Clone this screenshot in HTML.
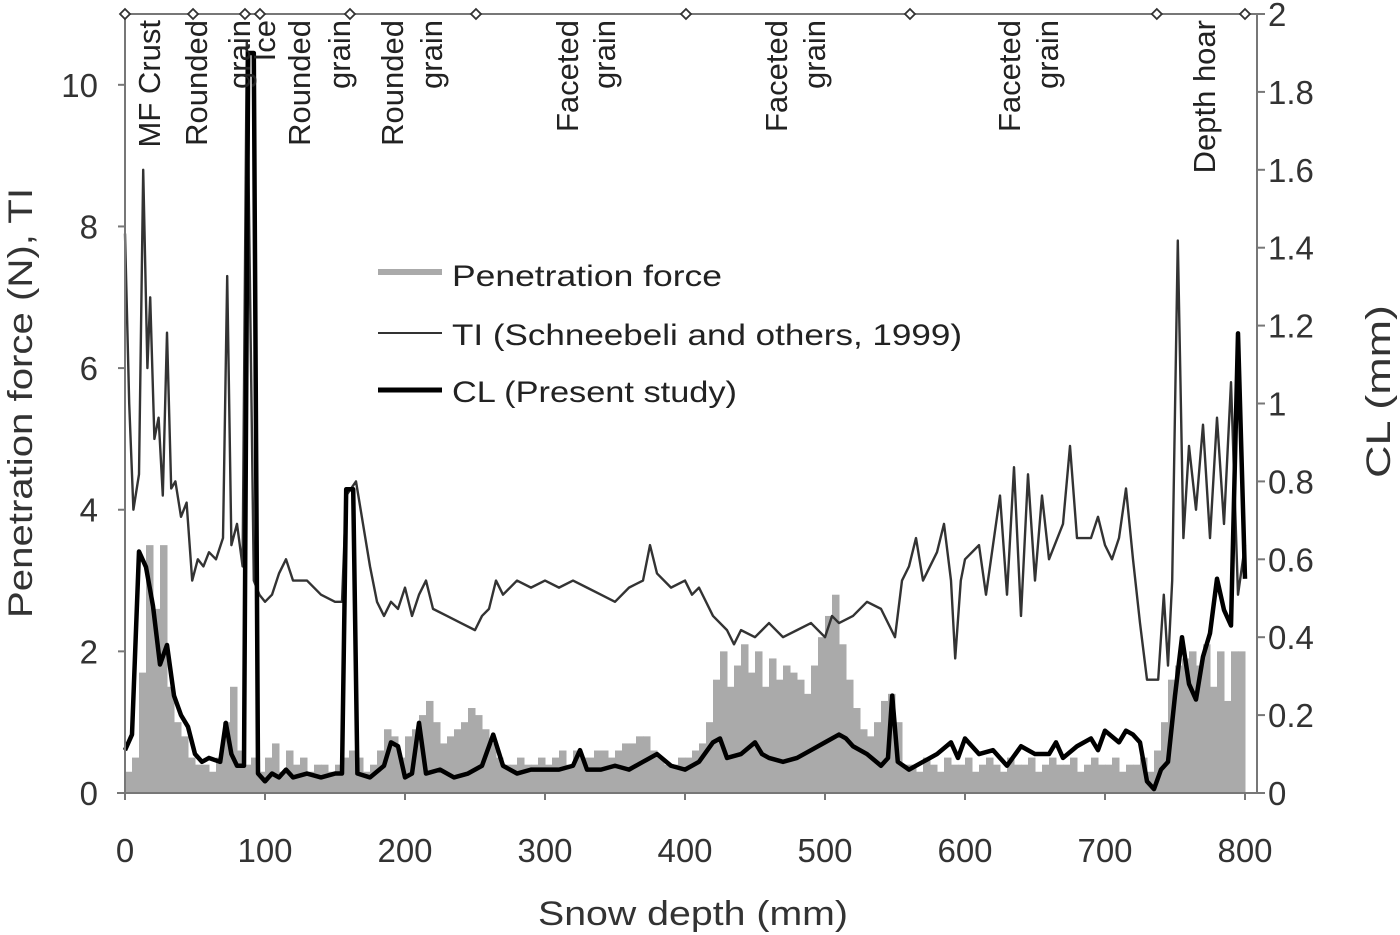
<!DOCTYPE html>
<html><head><meta charset="utf-8"><style>
html,body{margin:0;padding:0;background:#fff;}
svg{display:block;font-family:"Liberation Sans",Arial,sans-serif;}
</style></head><body>
<svg id="chart" width="1400" height="935" viewBox="0 0 1400 935" xmlns="http://www.w3.org/2000/svg">
<g id="pf"></g>
<g id="ti"></g>
<g id="cl"></g>
<g id="axes"></g>
<g id="layers"></g>
<g font-size="30" fill="#222">
  <line x1="378" y1="272" x2="442" y2="272" stroke="#aaa" stroke-width="6"/>
  <text x="452" y="286" textLength="270" lengthAdjust="spacingAndGlyphs">Penetration  force</text>
  <line x1="378" y1="333" x2="442" y2="333" stroke="#333" stroke-width="2"/>
  <text x="452" y="345" textLength="510" lengthAdjust="spacingAndGlyphs">TI (Schneebeli  and others, 1999)</text>
  <line x1="378" y1="390" x2="442" y2="390" stroke="#000" stroke-width="5"/>
  <text x="452" y="402" textLength="285" lengthAdjust="spacingAndGlyphs">CL (Present study)</text>
</g>
<text x="538" y="925" font-size="34" fill="#333" textLength="310" lengthAdjust="spacingAndGlyphs">Snow  depth (mm)</text>
<text transform="translate(32,618) rotate(-90)" font-size="34" fill="#333" textLength="430" lengthAdjust="spacingAndGlyphs">Penetration force (N), TI</text>
<text transform="translate(1390,478) rotate(-90)" font-size="34" fill="#333" textLength="173" lengthAdjust="spacingAndGlyphs">CL (mm)</text>
</svg>
<script>
const xTicks=[0,100,200,300,400,500,600,700,800];
const leftTicks=[0,2,4,6,8,10];
const rightTicks=["0","0.2","0.4","0.6","0.8","1","1.2","1.4","1.6","1.8","2"];
const layerBounds=[0,48.6,85.7,96.4,160.7,250.7,400.7,560.7,737,800];
const layerLabels=[["MF Crust",150],["Rounded",197],["grain",240],["Ice",265],["Rounded",300],["grain",340],["Rounded",393],["grain",432],["Faceted",568],["grain",605],["Faceted",777],["grain",815],["Faceted",1010],["grain",1048],["Depth hoar",1205]];
const tiDepth=[0,3,6,10,13,16,18,21,24,27,30,33,36,40,44,48,52,56,60,65,70,73,76,80,84,87,92,96,100,105,110,115,120,130,140,150,155,158,165,170,175,180,185,190,195,200,205,210,215,220,230,240,250,255,260,265,270,280,290,300,310,320,330,340,350,360,370,375,380,390,400,405,410,420,430,435,440,450,460,470,480,490,500,505,510,520,530,540,550,555,560,565,570,580,585,590,593,597,600,610,615,620,625,630,635,640,645,650,655,660,670,675,680,690,695,700,705,710,715,720,725,730,738,742,745,748,752,756,760,765,770,775,780,785,790,795,800];
const tiValues=[7.9,5.5,4.0,4.5,8.8,6.0,7.0,5.0,5.3,4.2,6.5,4.3,4.4,3.9,4.1,3.0,3.3,3.2,3.4,3.3,3.6,7.3,3.5,3.8,3.2,10.6,3.0,2.8,2.7,2.8,3.1,3.3,3.0,3.0,2.8,2.7,2.7,4.2,4.4,3.8,3.2,2.7,2.5,2.7,2.6,2.9,2.5,2.8,3.0,2.6,2.5,2.4,2.3,2.5,2.6,3.0,2.8,3.0,2.9,3.0,2.9,3.0,2.9,2.8,2.7,2.9,3.0,3.5,3.1,2.9,3.0,2.8,2.9,2.5,2.3,2.1,2.3,2.2,2.4,2.2,2.3,2.4,2.2,2.5,2.4,2.5,2.7,2.6,2.2,3.0,3.2,3.6,3.0,3.4,3.8,3.0,1.9,3.0,3.3,3.5,2.8,3.5,4.2,2.8,4.6,2.5,4.5,3.0,4.2,3.3,3.8,4.9,3.6,3.6,3.9,3.5,3.3,3.6,4.3,3.3,2.4,1.6,1.6,2.8,1.8,3.0,7.8,3.6,4.9,4.0,5.2,3.6,5.3,3.8,5.8,2.8,3.5];
const clDepth=[0,5,10,15,20,25,30,35,40,45,50,55,60,68,72,76,80,85,88,92,95,100,105,110,115,120,130,140,150,155,158,163,166,175,185,190,195,200,205,210,215,225,235,245,255,263,270,280,290,300,310,320,325,330,340,350,360,370,380,390,400,410,420,425,430,440,450,455,460,470,480,490,500,510,515,520,530,540,545,548,552,560,570,580,590,595,600,610,620,625,630,640,650,660,665,670,680,690,695,700,710,715,720,725,730,735,740,745,750,755,760,765,770,775,780,785,790,795,800];
const clValues=[0.11,0.15,0.62,0.58,0.48,0.33,0.38,0.25,0.20,0.17,0.10,0.08,0.09,0.08,0.18,0.10,0.07,0.07,1.9,1.9,0.05,0.03,0.05,0.04,0.06,0.04,0.05,0.04,0.05,0.05,0.78,0.78,0.05,0.04,0.07,0.13,0.12,0.04,0.05,0.18,0.05,0.06,0.04,0.05,0.07,0.15,0.07,0.05,0.06,0.06,0.06,0.07,0.11,0.06,0.06,0.07,0.06,0.08,0.10,0.07,0.06,0.08,0.13,0.14,0.09,0.10,0.13,0.10,0.09,0.08,0.09,0.11,0.13,0.15,0.14,0.12,0.10,0.07,0.09,0.25,0.08,0.06,0.08,0.10,0.13,0.09,0.14,0.10,0.11,0.09,0.07,0.12,0.10,0.10,0.13,0.09,0.12,0.14,0.11,0.16,0.13,0.16,0.15,0.13,0.03,0.01,0.06,0.08,0.25,0.40,0.28,0.24,0.35,0.41,0.55,0.47,0.43,1.18,0.55];
const pfValues=[0.3,0.5,1.7,3.5,2.6,3.5,1.5,1.0,0.8,0.5,0.4,0.4,0.3,0.5,1.0,1.5,0.6,0.4,0.5,0.3,0.5,0.7,0.3,0.6,0.4,0.5,0.3,0.4,0.4,0.3,0.4,0.5,0.6,0.5,0.3,0.4,0.6,0.9,0.8,0.5,0.8,0.9,1.1,1.3,1.0,0.7,0.8,0.9,1.0,1.2,1.1,0.9,0.7,0.5,0.4,0.4,0.5,0.4,0.4,0.5,0.4,0.5,0.6,0.4,0.6,0.5,0.5,0.6,0.6,0.5,0.6,0.7,0.7,0.8,0.8,0.6,0.5,0.4,0.4,0.5,0.5,0.6,0.7,1.0,1.6,2.0,1.5,1.8,2.1,1.7,2.0,1.5,1.9,1.6,1.8,1.7,1.6,1.4,1.8,2.2,2.5,2.8,2.1,1.6,1.2,0.9,0.8,1.0,1.3,1.4,1.0,0.4,0.4,0.3,0.5,0.4,0.3,0.5,0.4,0.4,0.5,0.3,0.4,0.5,0.4,0.3,0.5,0.4,0.4,0.5,0.3,0.4,0.5,0.4,0.4,0.5,0.3,0.4,0.5,0.4,0.4,0.5,0.3,0.4,0.4,0.5,0.3,0.6,1.0,1.6,1.8,1.9,2.0,1.8,2.1,1.5,2.0,1.3,2.0,2.0];
const pfStep=5;

const X0=125,PX=1.4,YB=793,TOP=14,XR=1257;
const sx=d=>X0+d*PX;
const syL=v=>YB-v*(YB-TOP)/11;
const syR=v=>YB-v*(YB-TOP)/2;
const NS="http://www.w3.org/2000/svg";
function mk(tag,parent,attrs){const e=document.createElementNS(NS,tag);for(const k in attrs)e.setAttribute(k,attrs[k]);parent.appendChild(e);return e;}

const pfG=document.getElementById('pf');
pfValues.forEach((v,i)=>{
  const r=mk('rect',pfG,{x:sx(i*pfStep),y:syL(v),width:pfStep*PX+0.5,height:YB-syL(v),fill:'#aaa'});
  
  
});
const ti=mk('polyline',document.getElementById('ti'),{points:tiDepth.map((d,i)=>sx(d)+','+syL(tiValues[i])).join(' '),fill:'none',stroke:'#333','stroke-width':2.4,'stroke-linejoin':'round'});


const cl=mk('polyline',document.getElementById('cl'),{points:clDepth.map((d,i)=>sx(d)+','+syR(clValues[i])).join(' '),fill:'none',stroke:'#000','stroke-width':4.5,'stroke-linejoin':'round'});



const ax=document.getElementById('axes');
mk('line',ax,{x1:X0,y1:TOP,x2:X0,y2:YB,stroke:'#777','stroke-width':2});
mk('line',ax,{x1:XR,y1:TOP,x2:XR,y2:YB,stroke:'#777','stroke-width':2});
mk('line',ax,{x1:X0-8,y1:YB,x2:XR,y2:YB,stroke:'#777','stroke-width':2});
mk('line',ax,{x1:X0,y1:TOP,x2:XR,y2:TOP,stroke:'#777','stroke-width':2});
xTicks.forEach(t=>{
  mk('line',ax,{x1:sx(t),y1:YB,x2:sx(t),y2:YB+7,stroke:'#777','stroke-width':2});
  const e=mk('text',ax,{x:sx(t),y:862,'font-size':33,fill:'#333','text-anchor':'middle'});e.textContent=t;
  
  
});
leftTicks.forEach(t=>{
  mk('line',ax,{x1:X0-7,y1:syL(t),x2:X0,y2:syL(t),stroke:'#777','stroke-width':2});
  const e=mk('text',ax,{x:98,y:syL(t)+12,'font-size':33,fill:'#333','text-anchor':'end'});e.textContent=t;
  
  
});
rightTicks.forEach(t=>{
  const y=syR(parseFloat(t));
  mk('line',ax,{x1:XR,y1:y,x2:XR+8,y2:y,stroke:'#777','stroke-width':2});
  const e=mk('text',ax,{x:1268,y:y+12,'font-size':33,fill:'#333'});e.textContent=t;
  
  
});
const lg=document.getElementById('layers');
layerBounds.forEach(b=>{
  const x=sx(b);
  const d=mk('polygon',lg,{points:`${x-5},${TOP} ${x},${TOP-5} ${x+5},${TOP} ${x},${TOP+5}`,fill:'#fff',stroke:'#333','stroke-width':1.8});
  
  
});
layerLabels.forEach(([s,x])=>{
  const e=mk('text',lg,{transform:`translate(${x+10},20) rotate(-90)`,'font-size':31,fill:'#222','text-anchor':'end'});e.textContent=s;
  
  
});
</script>
</body></html>
